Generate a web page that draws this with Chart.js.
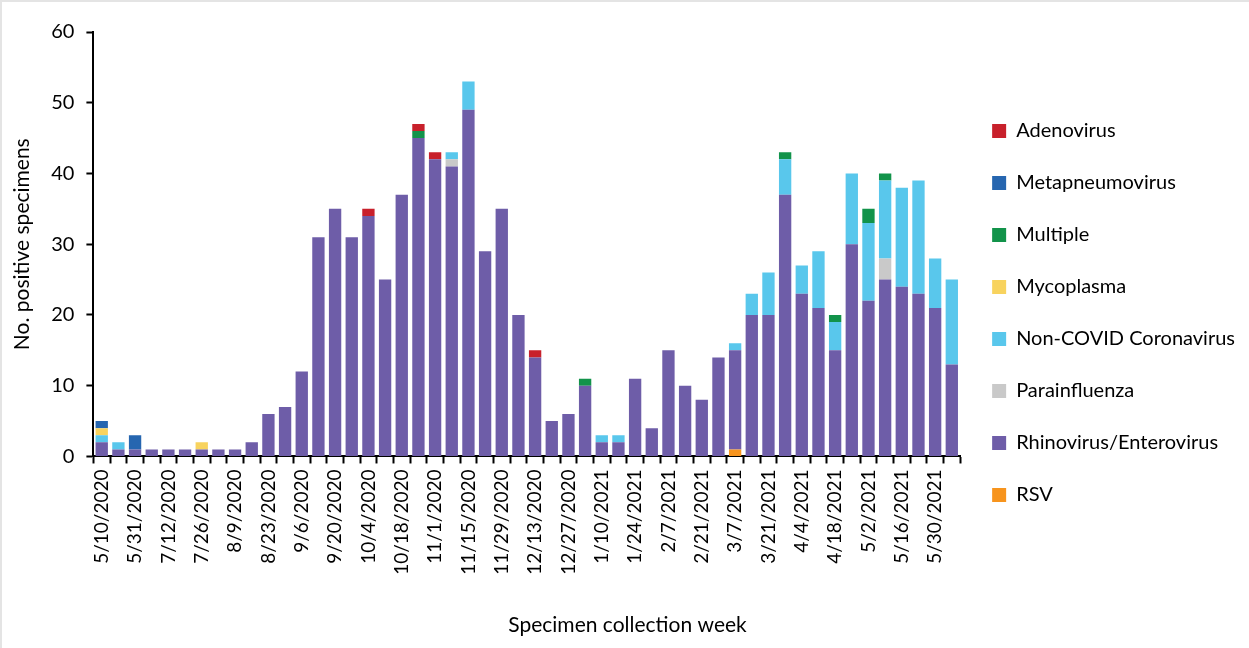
<!DOCTYPE html>
<html>
<head>
<meta charset="utf-8">
<script src="https://cdn.jsdelivr.net/npm/chart.js@4"></script>
<style>
    html, body { margin: 0; padding: 0; background: #fff; }
    .frame {
        width: 1247px;
        height: 646px;
        border-top: 2px solid #e4e4e4;
        border-left: 2px solid #e4e4e4;
        position: relative;
    }
</style>
</head>
<body>
<div class="frame">
    <canvas id="virusChart" width="1247" height="646"></canvas>
</div>
<script>
const weeks = [
    '5/10/2020', '5/24/2020', '5/31/2020', '6/28/2020', '7/12/2020', '7/19/2020', '7/26/2020', '8/2/2020',
    '8/9/2020', '8/16/2020', '8/23/2020', '8/30/2020', '9/6/2020', '9/13/2020', '9/20/2020', '9/27/2020',
    '10/4/2020', '10/11/2020', '10/18/2020', '10/25/2020', '11/1/2020', '11/8/2020', '11/15/2020', '11/22/2020',
    '11/29/2020', '12/6/2020', '12/13/2020', '12/20/2020', '12/27/2020', '1/3/2021', '1/10/2021', '1/17/2021',
    '1/24/2021', '1/31/2021', '2/7/2021', '2/14/2021', '2/21/2021', '2/28/2021', '3/7/2021', '3/14/2021',
    '3/21/2021', '3/28/2021', '4/4/2021', '4/11/2021', '4/18/2021', '4/25/2021', '5/2/2021', '5/9/2021',
    '5/16/2021', '5/23/2021', '5/30/2021', '6/6/2021'
];

// stacked bottom to top: RSV, Rhino, Parainfluenza, Non-COVID, Mycoplasma, Multiple, Metapneumo, Adeno
const rsv = [
    0, 0, 0, 0, 0, 0, 0, 0, 0, 0, 0, 0, 0, 0, 0, 0, 0, 0, 0, 0, 0, 0, 0, 0, 0, 0,
    0, 0, 0, 0, 0, 0, 0, 0, 0, 0, 0, 0, 1, 0, 0, 0, 0, 0, 0, 0, 0, 0, 0, 0, 0, 0
];
const rhinovirus = [
    2, 1, 1, 1, 1, 1, 1, 1, 1, 2, 6, 7, 12, 31, 35, 31, 34, 25, 37, 45, 42, 41, 49, 29, 35, 20,
    14, 5, 6, 10, 2, 2, 11, 4, 15, 10, 8, 14, 14, 20, 20, 37, 23, 21, 15, 30, 22, 25, 24, 23, 21, 13
];
const parainfluenza = [
    0, 0, 0, 0, 0, 0, 0, 0, 0, 0, 0, 0, 0, 0, 0, 0, 0, 0, 0, 0, 0, 1, 0, 0, 0, 0,
    0, 0, 0, 0, 0, 0, 0, 0, 0, 0, 0, 0, 0, 0, 0, 0, 0, 0, 0, 0, 0, 3, 0, 0, 0, 0
];
const nonCovid = [
    1, 1, 0, 0, 0, 0, 0, 0, 0, 0, 0, 0, 0, 0, 0, 0, 0, 0, 0, 0, 0, 1, 4, 0, 0, 0,
    0, 0, 0, 0, 1, 1, 0, 0, 0, 0, 0, 0, 1, 3, 6, 5, 4, 8, 4, 10, 11, 11, 14, 16, 7, 12
];
const mycoplasma = [
    1, 0, 0, 0, 0, 0, 1, 0, 0, 0, 0, 0, 0, 0, 0, 0, 0, 0, 0, 0, 0, 0, 0, 0, 0, 0,
    0, 0, 0, 0, 0, 0, 0, 0, 0, 0, 0, 0, 0, 0, 0, 0, 0, 0, 0, 0, 0, 0, 0, 0, 0, 0
];
const multiple = [
    0, 0, 0, 0, 0, 0, 0, 0, 0, 0, 0, 0, 0, 0, 0, 0, 0, 0, 0, 1, 0, 0, 0, 0, 0, 0,
    0, 0, 0, 1, 0, 0, 0, 0, 0, 0, 0, 0, 0, 0, 0, 1, 0, 0, 1, 0, 2, 1, 0, 0, 0, 0
];
const metapneumovirus = [
    1, 0, 2, 0, 0, 0, 0, 0, 0, 0, 0, 0, 0, 0, 0, 0, 0, 0, 0, 0, 0, 0, 0, 0, 0, 0,
    0, 0, 0, 0, 0, 0, 0, 0, 0, 0, 0, 0, 0, 0, 0, 0, 0, 0, 0, 0, 0, 0, 0, 0, 0, 0
];
const adenovirus = [
    0, 0, 0, 0, 0, 0, 0, 0, 0, 0, 0, 0, 0, 0, 0, 0, 1, 0, 0, 1, 1, 0, 0, 0, 0, 0,
    1, 0, 0, 0, 0, 0, 0, 0, 0, 0, 0, 0, 0, 0, 0, 0, 0, 0, 0, 0, 0, 0, 0, 0, 0, 0
];
const yTicks = [0, 10, 20, 30, 40, 50, 60];

function series(label, data, color) {
    return {
        label: label,
        data: data,
        backgroundColor: color,
        borderWidth: 0,
        barPercentage: 0.74,
        categoryPercentage: 1.0
    };
}

const ctx = document.getElementById('virusChart').getContext('2d');

const virusChart = new Chart(ctx, {
    type: 'bar',
    data: {
        labels: weeks,
        datasets: [
            series('RSV', rsv, '#F7941D'),
            series('Rhinovirus/Enterovirus', rhinovirus, '#6E5DA8'),
            series('Parainfluenza', parainfluenza, '#C9C9C9'),
            series('Non-COVID Coronavirus', nonCovid, '#59C7EC'),
            series('Mycoplasma', mycoplasma, '#F8D35E'),
            series('Multiple', multiple, '#12934A'),
            series('Metapneumovirus', metapneumovirus, '#2666B0'),
            series('Adenovirus', adenovirus, '#C8202B')
        ]
    },
    options: {
        responsive: false,
        animation: false,
        layout: {
            padding: { top: 30, left: 8, right: 4, bottom: 2 }
        },
        scales: {
            x: {
                stacked: true,
                offset: true,
                border: { color: '#000', width: 2 },
                grid: {
                    offset: true,
                    drawOnChartArea: false,
                    tickColor: '#000',
                    tickLength: 7,
                    tickWidth: 2
                },
                ticks: {
                    autoSkip: false,
                    minRotation: 90,
                    maxRotation: 90,
                    color: '#000',
                    font: { family: 'Lato', size: 19 },
                    padding: 6,
                    callback: function (value, index) {
                        return index % 2 === 0 ? weeks[index] : '';
                    }
                }
            },
            y: {
                stacked: true,
                min: 0,
                max: 60,
                afterBuildTicks: function (axis) {
                    axis.ticks = yTicks.map(function (v) { return { value: v }; });
                },
                border: { color: '#000', width: 2 },
                grid: {
                    drawOnChartArea: false,
                    tickColor: '#000',
                    tickLength: 7,
                    tickWidth: 2
                },
                ticks: {
                    color: '#000',
                    font: { family: 'Lato', size: 20 },
                    padding: 12
                },
                title: {
                    display: true,
                    text: 'No. positive specimens',
                    color: '#000',
                    font: { family: 'Lato', size: 21 },
                    padding: { top: 0, bottom: 4 }
                }
            }
        },
        plugins: {
            legend: {
                position: 'right',
                reverse: true,
                align: 'start',
                title: {
                    display: true,
                    text: '',
                    font: { family: 'Lato', size: 20 },
                    padding: { top: 16, bottom: 17 }
                },
                labels: {
                    color: '#000',
                    font: { family: 'Lato', size: 20 },
                    boxWidth: 14,
                    boxHeight: 14,
                    padding: 32
                }
            },
            title: {
                display: true,
                position: 'bottom',
                text: 'Specimen collection week',
                color: '#000',
                font: { family: 'Lato', size: 21, weight: 'normal' },
                padding: { top: 32, bottom: 8 }
            },
            tooltip: {
                mode: 'index'
            }
        }
    }
});
</script>
</body>
</html>
